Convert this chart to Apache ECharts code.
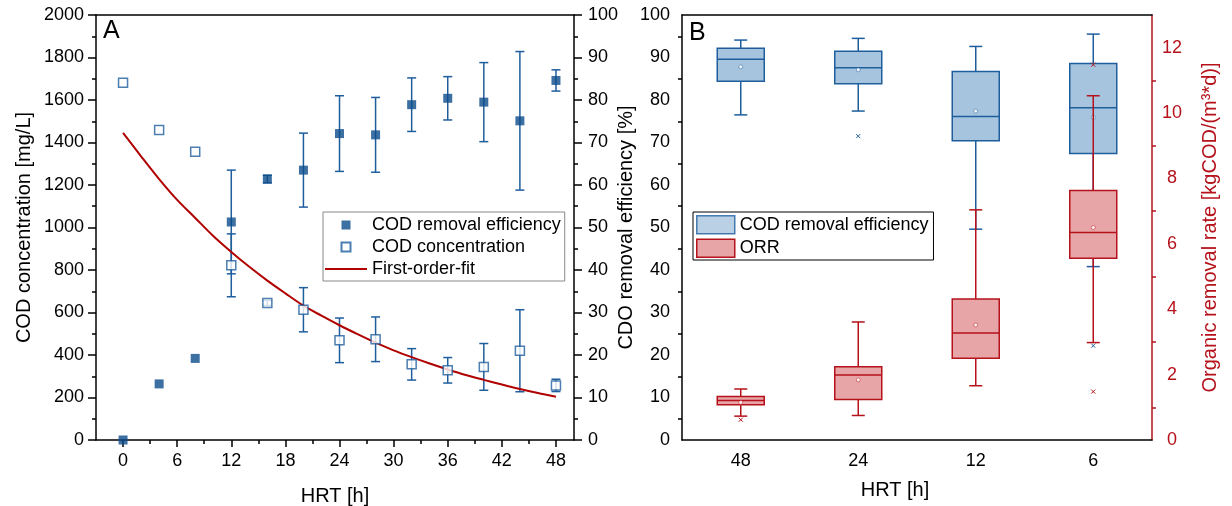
<!DOCTYPE html>
<html lang="en">
<head>
<meta charset="UTF-8">
<title>COD removal</title>
<style>
  * { padding: 0; margin: 0; }
  body { background: #fff; }
</style>
</head>
<body>
<div id="main" style="width:1232px;height:506px;"></div>
<script src="https://cdn.jsdelivr.net/npm/echarts@6/dist/echarts.min.js"></script>
<script>
// panel A: time series (HRT in hours)
const hrt = [0, 4, 8, 12, 16, 20, 24, 28, 32, 36, 40, 44, 48];
const codRemoval = [0, 13.2, 19.2, 51.3, 61.4, 63.5, 72.1, 71.8, 78.9, 80.4, 79.5, 75.1, 84.6];
const codRemovalErr = [0, 0, 0, 12.2, 0.9, 8.7, 8.9, 8.8, 6.3, 5.1, 9.3, 16.3, 2.5];
const codConc = [1681, 1459, 1357, 822, 645, 613, 469, 474, 356, 328, 344, 420, 257];
const codConcErr = [0, 0, 0, 148, 12, 104, 105, 105, 74, 60, 110, 193, 29];
const fitHrt = [0, 2, 4, 6, 8, 10, 12, 14, 16, 18, 20, 22, 24, 26, 28, 30, 32, 34, 36, 38, 40, 42, 44, 46, 48];
const fitCod = [1445, 1335, 1228, 1130, 1045, 960, 885, 815, 750, 690, 632, 585, 540, 498, 458, 422, 390, 360, 332, 306, 283, 261, 240, 221, 204];
const xTicks = [0, 6, 12, 18, 24, 30, 36, 42, 48];
const xMinorTicks = [3, 9, 15, 21, 27, 33, 39, 45];

// panel B: box plots, [min, q1, median, q3, max]
const hrtCats = ['48', '24', '12', '6'];
const effBox = [[76.5, 84.4, 89.6, 92.2, 94.1], [77.4, 83.8, 87.6, 91.5, 94.5], [49.6, 70.4, 76.1, 86.7, 92.6], [40.8, 67.4, 78.2, 88.6, 95.5]];
const effMean = [87.8, 87.1, 77.4, 75.9];
const effOutliers = [[1, 71.5], [3, 22.2]];
const orrBox = [[0.73, 1.08, 1.21, 1.33, 1.56], [0.75, 1.24, 1.99, 2.24, 3.61], [1.66, 2.50, 3.27, 4.31, 7.04], [2.98, 5.56, 6.35, 7.63, 10.53]];
const orrMean = [1.15, 1.84, 3.52, 6.50];
const orrOutliers = [[0, 0.62], [3, 11.48], [3, 1.48]];

const FONT = "'Liberation Sans', Arial, sans-serif";
const navy = '#0d4c8b', blueLine = '#1f5e9d', blueFill = '#a7c4de';
const red = '#b5121b', redFill = '#e8a5a8', fitRed = '#b00000';

const myChart = echarts.init(document.getElementById('main'));

function errRenderer(color) {
  return function (params, api) {
    const x = api.value(0);
    const lo = api.coord([x, api.value(1)]);
    const hi = api.coord([x, api.value(2)]);
    const h = 4.5;
    const st = { stroke: color, lineWidth: 1.5 };
    return { type: 'group', children: [
      { type: 'line', shape: { x1: lo[0], y1: lo[1], x2: hi[0], y2: hi[1] }, style: st },
      { type: 'line', shape: { x1: lo[0] - h, y1: lo[1], x2: lo[0] + h, y2: lo[1] }, style: st },
      { type: 'line', shape: { x1: hi[0] - h, y1: hi[1], x2: hi[0] + h, y2: hi[1] }, style: st }
    ] };
  };
}

function boxRenderer(stroke, fill) {
  return function (params, api) {
    const c = api.value(0);
    const p = [1, 2, 3, 4, 5, 6].map(i => api.coord([c, api.value(i)]));
    const x = p[0][0];
    const w = api.size([1, 0])[0] * 0.4;
    const cap = 6.5;
    const st = { stroke: stroke, lineWidth: 1.5 };
    return { type: 'group', children: [
      { type: 'line', shape: { x1: x, y1: p[0][1], x2: x, y2: p[1][1] }, style: st },
      { type: 'line', shape: { x1: x, y1: p[3][1], x2: x, y2: p[4][1] }, style: st },
      { type: 'line', shape: { x1: x - cap, y1: p[0][1], x2: x + cap, y2: p[0][1] }, style: st },
      { type: 'line', shape: { x1: x - cap, y1: p[4][1], x2: x + cap, y2: p[4][1] }, style: st },
      { type: 'rect', shape: { x: x - w / 2, y: p[3][1], width: w, height: p[1][1] - p[3][1] }, style: { fill: fill, stroke: stroke, lineWidth: 1.5 } },
      { type: 'line', shape: { x1: x - w / 2, y1: p[2][1], x2: x + w / 2, y2: p[2][1] }, style: st },
      { type: 'circle', shape: { cx: x, cy: p[5][1], r: 2 }, style: { fill: '#fff', stroke: stroke, lineWidth: 0.6, opacity: 0.8 } }
    ] };
  };
}

function outlierRenderer(color) {
  return function (params, api) {
    const p = api.coord([api.value(0), api.value(1)]);
    const s = 2;
    const st = { stroke: color, lineWidth: 1 };
    return { type: 'group', children: [
      { type: 'line', shape: { x1: p[0] - s, y1: p[1] - s, x2: p[0] + s, y2: p[1] + s }, style: st },
      { type: 'line', shape: { x1: p[0] - s, y1: p[1] + s, x2: p[0] + s, y2: p[1] - s }, style: st }
    ] };
  };
}

const plain = v => String(v);
const blackLine = { show: true, onZero: false, lineStyle: { color: '#000', width: 1.5 } };
const blackTick = { length: 8, lineStyle: { color: '#000', width: 1.5 } };
const blackMinor = { show: true, splitNumber: 2, length: 4, lineStyle: { color: '#000', width: 1.5 } };
const lbl = { color: '#000', fontSize: 18, fontFamily: FONT, margin: 12, formatter: plain };
const nameStyle = { color: '#000', fontSize: 20, fontFamily: FONT };

const option = {
  animation: false,
  textStyle: { fontFamily: FONT },
  grid: [
    { left: 96, top: 15, width: 478, height: 425, outerBoundsMode: 'none', containLabel: false },
    { left: 682, top: 15, width: 470, height: 425, outerBoundsMode: 'none', containLabel: false }
  ],
  graphic: [
    { type: 'text', left: 103, top: 19, style: { text: 'A', fontSize: 25, fontFamily: FONT, fill: '#000' } },
    { type: 'text', left: 689, top: 21, style: { text: 'B', fontSize: 25, fontFamily: FONT, fill: '#000' } }
  ],
  legend: [
    {
      data: [
        { name: 'COD removal efficiency', icon: 'path://M0,0h9v9h-9z' },
        { name: 'COD concentration', icon: 'path://M0,0h9v9h-9z' },
        { name: 'First-order-fit', icon: 'path://M0,0h42v2h-42z', itemStyle: { color: fitRed, borderWidth: 0 } }
      ],
      orient: 'vertical', left: 323, top: 212, itemWidth: 42, itemHeight: 9, itemGap: 4,
      padding: [4, 4, 3, 2], borderColor: '#888', borderWidth: 1, backgroundColor: '#fff',
      selectedMode: false, textStyle: { fontSize: 18, color: '#000', fontFamily: FONT }
    },
    {
      data: [
        { name: 'COD removal efficiency', icon: 'rect', itemStyle: { color: blueFill, borderColor: blueLine, borderWidth: 1.5 } },
        { name: 'ORR', icon: 'rect', itemStyle: { color: redFill, borderColor: red, borderWidth: 1.5 } }
      ],
      orient: 'vertical', left: 693, top: 212, itemWidth: 38, itemHeight: 18, itemGap: 4,
      padding: [3, 5, 2, 3], borderColor: '#000', borderWidth: 1, backgroundColor: '#fff',
      selectedMode: false, textStyle: { fontSize: 18, color: '#000', fontFamily: FONT }
    }
  ],
  xAxis: [
    {
      type: 'value', gridIndex: 0, min: -3, max: 50, position: 'bottom',
      axisLine: blackLine, splitLine: { show: false },
      axisTick: { customValues: xTicks, length: 7, lineStyle: { color: '#000', width: 1.5 } },
      axisLabel: Object.assign({}, lbl, { customValues: xTicks }),
      name: 'HRT [h]', nameLocation: 'middle', nameGap: 46, nameTextStyle: nameStyle
    },
    {
      type: 'value', gridIndex: 0, min: -3, max: 50, position: 'bottom',
      axisLine: { show: false, onZero: false }, splitLine: { show: false },
      axisTick: { customValues: xMinorTicks, length: 4, lineStyle: { color: '#000', width: 1.5 } },
      axisLabel: { show: false }
    },
    {
      type: 'value', gridIndex: 0, min: -3, max: 50, position: 'top',
      axisLine: blackLine, splitLine: { show: false }, axisTick: { show: false }, axisLabel: { show: false }
    },
    {
      type: 'category', gridIndex: 1, data: hrtCats, position: 'bottom',
      axisLine: blackLine,
      axisTick: { alignWithLabel: true, length: 7, lineStyle: { color: '#000', width: 1.5 } },
      axisLabel: lbl,
      name: 'HRT [h]', nameLocation: 'middle', nameGap: 40,
      nameTextStyle: Object.assign({ padding: [0, 44, 0, 0] }, nameStyle)
    },
    {
      type: 'category', gridIndex: 1, data: hrtCats, position: 'top',
      axisLine: blackLine, axisTick: { show: false }, axisLabel: { show: false }
    }
  ],
  yAxis: [
    {
      type: 'value', gridIndex: 0, min: 0, max: 2000, interval: 200, position: 'left',
      axisLine: blackLine, splitLine: { show: false },
      axisTick: blackTick, minorTick: blackMinor, axisLabel: lbl,
      name: 'COD concentration [mg/L]', nameLocation: 'middle', nameGap: 62, nameTextStyle: nameStyle
    },
    {
      type: 'value', gridIndex: 0, min: 0, max: 100, interval: 10, position: 'right',
      axisLine: blackLine, splitLine: { show: false },
      axisTick: blackTick, minorTick: blackMinor,
      axisLabel: Object.assign({}, lbl, { margin: 14 })
    },
    {
      type: 'value', gridIndex: 1, min: 0, max: 100, interval: 10, position: 'left',
      axisLine: blackLine, splitLine: { show: false },
      axisTick: blackTick, minorTick: blackMinor, axisLabel: lbl,
      name: 'CDO removal efficiency [%]', nameLocation: 'middle', nameGap: 42, nameTextStyle: nameStyle
    },
    {
      type: 'value', gridIndex: 1, min: 0, max: 13, interval: 2, position: 'right',
      axisLine: { show: true, onZero: false, lineStyle: { color: red, width: 1.5 } }, splitLine: { show: false },
      axisTick: { length: 8, lineStyle: { color: red, width: 1.5 } },
      minorTick: { show: true, splitNumber: 2, length: 4, lineStyle: { color: red, width: 1.5 } },
      axisLabel: Object.assign({}, lbl, { color: red, align: 'center', margin: 20, showMaxLabel: false }),
      name: 'Organic removal rate [kgCOD/(m³*d)]', nameLocation: 'middle', nameGap: 48,
      nameTextStyle: Object.assign({}, nameStyle, { color: red })
    }
  ],
  series: [
    {
      name: 'errEff', type: 'custom', xAxisIndex: 0, yAxisIndex: 1, z: 2,
      renderItem: errRenderer(blueLine), encode: { x: 0, y: [1, 2] },
      data: hrt.map((h, i) => [h, codRemoval[i] - codRemovalErr[i], codRemoval[i] + codRemovalErr[i]]).filter((d, i) => codRemovalErr[i] > 0)
    },
    {
      name: 'errConc', type: 'custom', xAxisIndex: 0, yAxisIndex: 0, z: 2,
      renderItem: errRenderer(blueLine), encode: { x: 0, y: [1, 2] },
      data: hrt.map((h, i) => [h, codConc[i] - codConcErr[i], codConc[i] + codConcErr[i]]).filter((d, i) => codConcErr[i] > 0)
    },
    {
      name: 'COD removal efficiency', type: 'scatter', xAxisIndex: 0, yAxisIndex: 1, z: 4,
      symbol: 'rect', symbolSize: 9, itemStyle: { color: navy },
      data: hrt.map((h, i) => [h, codRemoval[i]])
    },
    {
      name: 'COD concentration', type: 'scatter', xAxisIndex: 0, yAxisIndex: 0, z: 4,
      symbol: 'rect', symbolSize: 9, itemStyle: { color: '#fff', borderColor: blueLine, borderWidth: 1.5 },
      data: hrt.map((h, i) => [h, codConc[i]])
    },
    {
      name: 'First-order-fit', type: 'line', xAxisIndex: 0, yAxisIndex: 0, z: 3,
      symbol: 'none', smooth: 0.3, lineStyle: { color: fitRed, width: 2 }, itemStyle: { color: fitRed },
      data: fitHrt.map((h, i) => [h, fitCod[i]])
    },
    {
      name: 'COD removal efficiency', type: 'custom', xAxisIndex: 3, yAxisIndex: 2, z: 2,
      itemStyle: { color: blueFill, borderColor: blueLine, borderWidth: 1.5 },
      renderItem: boxRenderer(blueLine, blueFill), encode: { x: 0, y: [1, 2, 3, 4, 5] },
      data: effBox.map((b, i) => [i].concat(b, [effMean[i]]))
    },
    {
      name: 'effOut', type: 'custom', xAxisIndex: 3, yAxisIndex: 2, z: 2,
      renderItem: outlierRenderer(blueLine), encode: { x: 0, y: 1 }, data: effOutliers
    },
    {
      name: 'ORR', type: 'custom', xAxisIndex: 3, yAxisIndex: 3, z: 3,
      itemStyle: { color: redFill, borderColor: red, borderWidth: 1.5 },
      renderItem: boxRenderer(red, redFill), encode: { x: 0, y: [1, 2, 3, 4, 5] },
      data: orrBox.map((b, i) => [i].concat(b, [orrMean[i]]))
    },
    {
      name: 'orrOut', type: 'custom', xAxisIndex: 3, yAxisIndex: 3, z: 3,
      renderItem: outlierRenderer(red), encode: { x: 0, y: 1 }, data: orrOutliers
    }
  ]
};
myChart.setOption(option);
</script>
</body>
</html>
